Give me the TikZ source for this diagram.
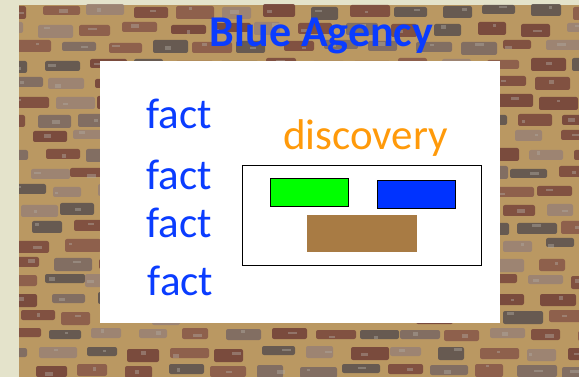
\documentclass[tikz,border=0pt]{standalone}
\usepackage{fontspec}
\setmainfont{Carlito}
\definecolor{paper}{HTML}{E4E3CB}
\definecolor{mortar}{HTML}{BA9862}
\definecolor{bA}{HTML}{7B4A3E}
\definecolor{bB}{HTML}{8A5A4A}
\definecolor{bC}{HTML}{5E5450}
\definecolor{bD}{HTML}{9A8274}
\definecolor{bE}{HTML}{74433A}
\definecolor{bF}{HTML}{7D6A62}
\definecolor{speck}{HTML}{B0A8A0}
\definecolor{txtblue}{HTML}{0A3CFF}
\definecolor{disco}{HTML}{FF9A0A}
\definecolor{boxgreen}{HTML}{00FF00}
\definecolor{boxblue}{HTML}{0033FF}
\definecolor{boxbrown}{HTML}{A87B44}
\pgfmathdeclarerandomlist{bricks}{{bA}{bB}{bC}{bD}{bE}{bF}}
\begin{document}
\begin{tikzpicture}[x=1pt,y=-1pt,
  bigtext/.style={inner sep=0pt,anchor=base,font=\fontsize{43}{50}\selectfont},
  facttext/.style={bigtext,text=txtblue},
  colbox/.style={draw=black,line width=1.2pt,inner sep=0pt,anchor=north west}]
\useasboundingbox (0,0) rectangle (579,377);
\fill[paper] (0,0) rectangle (579,377);
% brick wall
\begin{scope}
\clip (19,5) rectangle (579,377);
\fill[mortar] (19,5) rectangle (579,377);
\pgfmathsetseed{7}
\foreach \r in {0,...,20}{
  \pgfmathsetmacro\yy{4+\r*18}
  \pgfmathsetmacro\off{-random(0,40)}
  \foreach \c in {0,...,13}{
    \pgfmathsetmacro\xx{19+\off+\c*44+random(0,5)}
    \pgfmathsetmacro\ww{random(26,40)}
    \pgfmathsetmacro\hh{random(9,13)}
    \pgfmathsetmacro\jy{\yy+random(0,3)}
    \pgfmathsetmacro\sx{\xx+random(2,20)}
    \pgfmathsetmacro\sy{\jy+random(1,6)}
    \pgfmathsetmacro\sw{random(3,9)}
    \pgfmathsetmacro\sh{random(2,4)}
    \pgfmathrandomitem{\bc}{bricks}
    \fill[\bc,rounded corners=2pt,opacity=0.9] (\xx,\jy) rectangle ++(\ww,\hh);
    \fill[speck,opacity=0.45] (\sx,\sy) rectangle ++(\sw,\sh);
  }
}
\end{scope}
% white panel
\node[fill=white,inner sep=0pt,minimum width=400pt,minimum height=262pt,anchor=north west] (panel) at (100,61) {};
% title
\node[bigtext,font=\fontsize{44}{50}\selectfont\bfseries,text=txtblue] (title) at (321.5,47) {Blue Agency};
% facts
\node[facttext] (f1) at (179,129) {fact};
\node[facttext] (f2) at (179,190) {fact};
\node[facttext] (f3) at (179,237) {fact};
\node[facttext] (f4) at (180.5,295) {fact};
% discovery
\node[bigtext,text=disco] (disc) at (365.5,150) {discovery};
\node[draw=black,line width=1.2pt,inner sep=0pt,anchor=north west,minimum width=239pt,minimum height=100pt] (frame) at (242,165) {};
\node[colbox,fill=boxgreen,minimum width=78pt,minimum height=28pt] (green) at (270,178) {};
\node[colbox,fill=boxblue,minimum width=78pt,minimum height=28pt] (blue) at (377,180) {};
\node[fill=boxbrown,inner sep=0pt,anchor=north west,minimum width=110pt,minimum height=37pt] (brown) at (307,215) {};
\end{tikzpicture}
\end{document}
